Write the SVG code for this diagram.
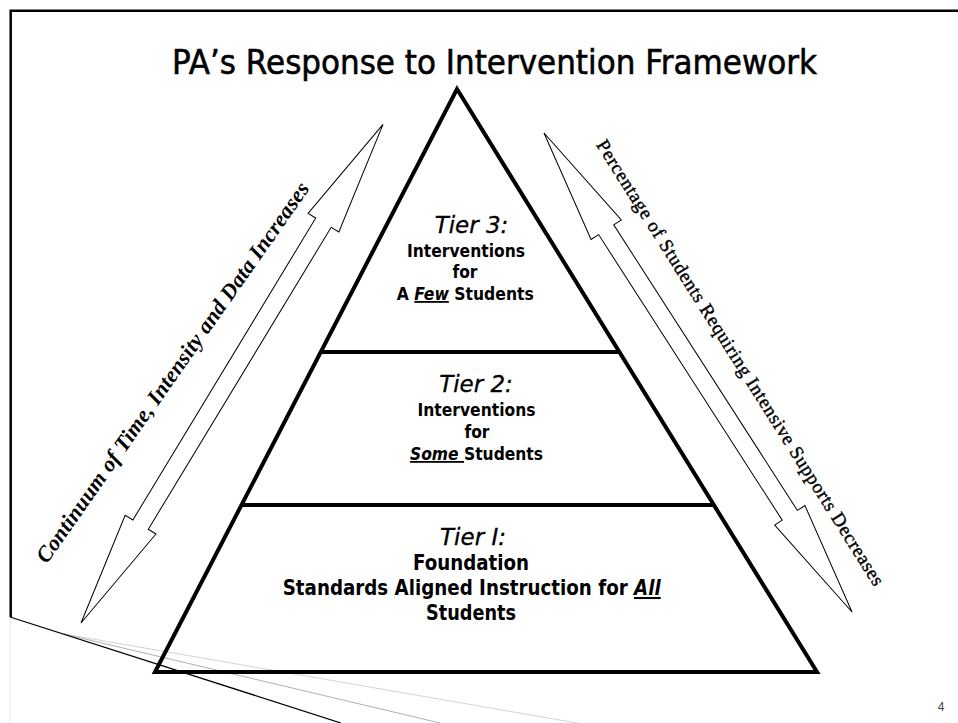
<svg xmlns="http://www.w3.org/2000/svg" width="958" height="723" viewBox="0 0 958 723">
<style>
.tier{font-family:"DejaVu Sans","Liberation Sans",sans-serif;font-weight:bold;fill:#000;text-anchor:middle}
.tierh{font-family:"DejaVu Sans","Liberation Sans",sans-serif;font-style:italic;font-weight:normal;fill:#000;text-anchor:middle;stroke:#000;stroke-width:0.3}
.em{font-style:italic;text-decoration:underline}
.edge{fill:none;stroke:#000;stroke-width:4}
.arrow{fill:#fff;stroke:#000;stroke-width:1}
</style>
<rect x="0" y="0" width="958" height="723" fill="#fff"/>
<g id="frame">
<path d="M10.7,617 V10.7 H958" fill="none" stroke="#000" stroke-width="2.5"/>
<line x1="10" y1="617" x2="10" y2="723" stroke="#e6e6e6" stroke-width="1"/>
<line x1="64" y1="634" x2="600" y2="727" stroke="#d4d4d4" stroke-width="1"/>
<line x1="64" y1="634" x2="440" y2="723" stroke="#b0b0b0" stroke-width="1"/>
<line x1="10" y1="617" x2="341" y2="723" stroke="#000" stroke-width="1.3"/>
</g>
<g id="title">
<text x="494.5" y="74" font-family="DejaVu Sans,Liberation Sans,sans-serif" font-size="33" text-anchor="middle" textLength="645" lengthAdjust="spacingAndGlyphs" fill="#000" stroke="#000" stroke-width="0.6">PA’s Response to Intervention Framework</text>
</g>
<g id="connectors">
<g id="arrow-left">
<polygon class="arrow" transform="translate(81,623) rotate(-58.8)" points="0,0 115,-18 115,-9 468,-9 468,-18 583,0 468,18 468,9 115,9 115,18"/>
<text transform="translate(178.5,376.5) rotate(-55)" x="0" y="0" font-family="Liberation Serif,DejaVu Serif,serif" font-style="italic" font-weight="bold" font-size="22" text-anchor="middle" textLength="459" lengthAdjust="spacing">Continuum of Time, Intensity and Data Increases</text>
</g>
<g id="arrow-right">
<polygon class="arrow" transform="translate(544,133) rotate(57.26)" points="0,0 115,-18 115,-9 454.5,-9 454.5,-18 569.5,0 454.5,18 454.5,9 115,9 115,18"/>
<text transform="translate(735,366) rotate(57.8)" x="0" y="0" font-family="Liberation Serif,DejaVu Serif,serif" font-size="19" text-anchor="middle" textLength="523" lengthAdjust="spacing" stroke="#000" stroke-width="0.4">Percentage of Students Requiring Intensive Supports Decreases</text>
</g>
</g>
<g id="pyramid">
<polygon class="edge" points="457,89 817,672 155,672"/>
<line class="edge" x1="320" y1="352" x2="619" y2="352"/>
<line class="edge" x1="241" y1="505" x2="714" y2="505"/>
</g>
<g id="tier3">
<text class="tierh" x="471.5" y="233" font-size="23">Tier 3:</text>
<text class="tier" x="466" y="257" font-size="18" textLength="118" lengthAdjust="spacingAndGlyphs">Interventions</text>
<text class="tier" x="465" y="278" font-size="18" textLength="25" lengthAdjust="spacingAndGlyphs">for</text>
<text class="tier" x="465.3" y="300" font-size="18" textLength="137" lengthAdjust="spacingAndGlyphs">A <tspan class="em">Few</tspan> Students</text>
</g>
<g id="tier2">
<text class="tierh" x="476" y="392" font-size="23">Tier 2:</text>
<text class="tier" x="476.5" y="416" font-size="18" textLength="118" lengthAdjust="spacingAndGlyphs">Interventions</text>
<text class="tier" x="477" y="438" font-size="18" textLength="25" lengthAdjust="spacingAndGlyphs">for</text>
<text class="tier" x="476.5" y="460" font-size="18" textLength="133" lengthAdjust="spacingAndGlyphs"><tspan class="em">Some </tspan>Students</text>
</g>
<g id="tier1">
<text class="tierh" x="473" y="545" font-size="23">Tier I:</text>
<text class="tier" x="471" y="570" font-size="20.5" textLength="116" lengthAdjust="spacingAndGlyphs">Foundation</text>
<text class="tier" x="471.7" y="595" font-size="20.5" textLength="378" lengthAdjust="spacingAndGlyphs">Standards Aligned Instruction for <tspan class="em">All</tspan></text>
<text class="tier" x="471" y="620" font-size="20.5" textLength="90" lengthAdjust="spacingAndGlyphs">Students</text>
</g>
<g id="page-number">
<text x="941" y="710.5" font-family="Liberation Sans,Arial,sans-serif" font-size="12" fill="#444" text-anchor="middle">4</text>
</g>
</svg>
